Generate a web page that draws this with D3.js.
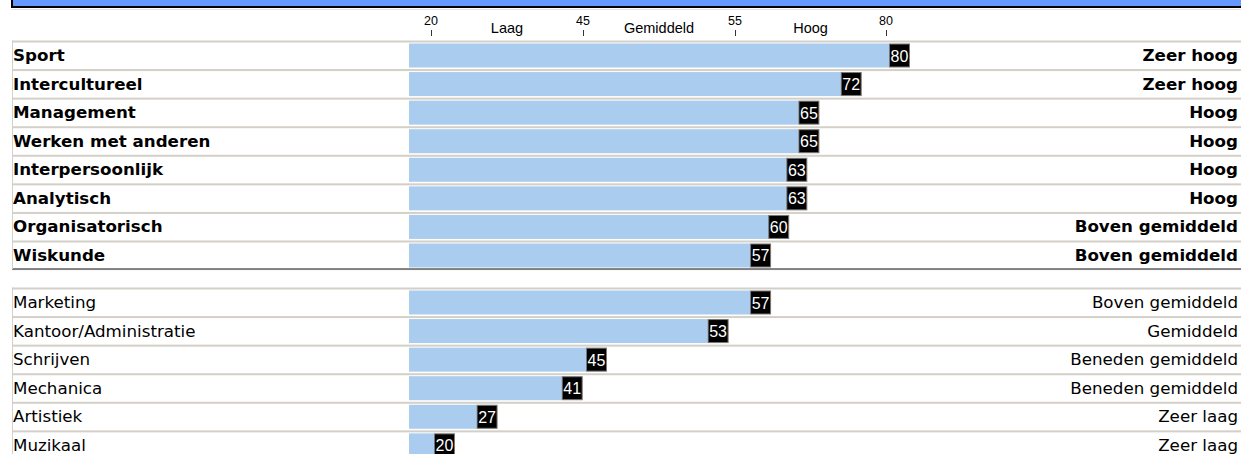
<!DOCTYPE html>
<html>
<head>
<meta charset="utf-8">
<script src="https://cdn.jsdelivr.net/npm/d3@7"></script>
<style>
  body { margin: 0; background: #fff; }
  svg { display: block; }
</style>
</head>
<body>
<div id="chart"></div>
<script>
// data
const topLabels = ["Sport", "Intercultureel", "Management", "Werken met anderen", "Interpersoonlijk", "Analytisch", "Organisatorisch", "Wiskunde"];
const topValues = [80, 72, 65, 65, 63, 63, 60, 57];
const topLevels = ["Zeer hoog", "Zeer hoog", "Hoog", "Hoog", "Hoog", "Hoog", "Boven gemiddeld", "Boven gemiddeld"];

const bottomLabels = ["Marketing", "Kantoor/Administratie", "Schrijven", "Mechanica", "Artistiek", "Muzikaal"];
const bottomValues = [57, 53, 45, 41, 27, 20];
const bottomLevels = ["Boven gemiddeld", "Gemiddeld", "Beneden gemiddeld", "Beneden gemiddeld", "Zeer laag", "Zeer laag"];

const tickValues = [20, 45, 55, 80];
const bandLabels = ["Laag", "Gemiddeld", "Hoog"];

const width = 1241, height = 454;
const barX0 = 409;
const labelFont = "'DejaVu Sans', Verdana, sans-serif";
const axisFont = "'Liberation Sans', Arial, sans-serif";

// piecewise scale: the four ticks are evenly spaced
const x = d3.scaleLinear().domain(tickValues).range([431, 583, 735, 886]);

const svg = d3.select("#chart").append("svg")
  .attr("width", width).attr("height", height);

// banner
svg.append("rect").attr("x", 12).attr("y", -4).attr("width", width).attr("height", 11)
  .attr("fill", "#6699ff").attr("stroke", "#000").attr("stroke-width", 2);
svg.append("line").attr("x1", 11).attr("x2", width).attr("y1", 9.5).attr("y2", 9.5)
  .attr("stroke", "#e4e4e4");

// header axis
const head = svg.append("g");
head.selectAll("text.tick").data(tickValues).enter().append("text")
  .attr("class", "tick")
  .attr("x", d => x(d)).attr("y", 25)
  .attr("text-anchor", "middle")
  .style("font", "12.5px " + axisFont)
  .text(d => d);
head.selectAll("line").data(tickValues).enter().append("line")
  .attr("x1", d => x(d) + 0.5).attr("x2", d => x(d) + 0.5)
  .attr("y1", 30).attr("y2", 36)
  .attr("stroke", "#333");
head.selectAll("text.band").data(bandLabels).enter().append("text")
  .attr("class", "band")
  .attr("x", (d, i) => (x(tickValues[i]) + x(tickValues[i + 1])) / 2)
  .attr("y", 33)
  .attr("text-anchor", "middle")
  .style("font", "14.5px " + axisFont)
  .text(d => d);

function drawGroup(labels, values, levels, y0, bold, bottomColor) {
  const rows = labels.map((l, i) => ({ label: l, value: values[i], level: levels[i] }));
  const y = d3.scaleBand().domain(labels).range([y0, y0 + labels.length * 28.57]);
  const g = svg.append("g");

  // row separators
  g.selectAll("rect.sep").data(rows).enter().append("rect")
    .attr("class", "sep")
    .attr("x", 12).attr("width", width - 12)
    .attr("y", d => y(d.label)).attr("height", 2)
    .attr("fill", "#d4d0c8");
  g.append("rect")
    .attr("x", 12).attr("width", width - 12)
    .attr("y", y0 + labels.length * y.step() - 1).attr("height", 2)
    .attr("fill", bottomColor);
  g.append("rect")
    .attr("x", 12).attr("width", 1)
    .attr("y", y0).attr("height", labels.length * y.step())
    .attr("fill", "#d4d0c8");

  // bars
  g.selectAll("rect.bar").data(rows).enter().append("rect")
    .attr("class", "bar")
    .attr("x", barX0)
    .attr("y", d => y(d.label) + 3)
    .attr("width", d => x(d.value) + 3 - barX0)
    .attr("height", 24)
    .attr("fill", "#aaccee");

  // value boxes
  const vb = g.selectAll("g.val").data(rows).enter().append("g").attr("class", "val");
  vb.append("rect")
    .attr("x", d => x(d.value) + 3.5)
    .attr("y", d => y(d.label) + 3.5)
    .attr("width", 20).attr("height", 23)
    .attr("fill", "#000").attr("stroke", "#777").attr("stroke-width", 1);
  vb.append("text")
    .attr("x", d => x(d.value) + 13.5)
    .attr("y", d => y(d.label) + 21)
    .attr("text-anchor", "middle")
    .attr("fill", "#fff")
    .style("font", "16px " + axisFont)
    .text(d => d.value);

  // category and level labels
  g.selectAll("text.cat").data(rows).enter().append("text")
    .attr("class", "cat")
    .attr("x", 13).attr("y", d => y(d.label) + 20.5)
    .style("font", (bold ? "bold " : "") + "16.7px " + labelFont)
    .text(d => d.label);
  g.selectAll("text.lvl").data(rows).enter().append("text")
    .attr("class", "lvl")
    .attr("x", 1238).attr("y", d => y(d.label) + 20.5)
    .attr("text-anchor", "end")
    .style("font", (bold ? "bold " : "") + "16.7px " + labelFont)
    .text(d => d.level);
}

drawGroup(topLabels, topValues, topLevels, 40.5, true, "#808080");
drawGroup(bottomLabels, bottomValues, bottomLevels, 287.5, false, "#d4d0c8");
</script>
</body>
</html>
